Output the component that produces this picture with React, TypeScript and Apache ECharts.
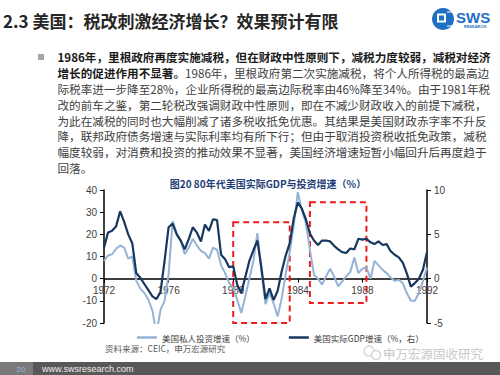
import React, { useEffect, useRef } from 'react';
import * as echarts from 'echarts';

// ---------- data ----------
const startYear = 1972;
const endYear = 1992;
const quarters: string[] = [];
for (let y = startYear; y <= endYear; y++) {
  for (let q = 1; q <= 4; q++) {
    if (y === endYear && q > 1) break;
    quarters.push(`${y}Q${q}`);
  }
}
const xTickLabels = ['1972', '1976', '1980', '1984', '1988', '1992'];

// 美国私人投资增速（%）, left axis
const investmentGrowth = [
  8, 10.5, 11, 13.5, 15, 14, 9, 10, -1, -4.5,
  -6.5, -9.5, -14.5, -25, -14, -10, 2, 26, 20.5, 17,
  11, 14, 18, 15, 12.5, 11.5, 9, 14, 13, 6,
  2.5, -2, -4, -9.5, -15.5, -8, 0, 8, 20.5, 3,
  -11.5, -6.5, -11, -17, -9, 2, 12, 24, 39, 31,
  25, 13, 1.8, 0, -2.7, 1, 4.5, 1, -3.5, -1.2,
  1, 3, 9.5, 2.5, 4.5, 5, 0, 8, 6, 4,
  2.5, 0.5, -1, -0.5, -2, -6.5, -10, -10, -6.5, -1,
  5,
];

// 美国实际GDP增速（%，右）, right axis
const gdpGrowth = [
  3.5, 5.2, 5.4, 5.9, 7.6, 6.4, 5.0, 4.0, 0.6, 0.1,
  -0.6, -1.3, -2.0, -2.3, -1.5, 2.0, 5.8, 6.2, 5.0, 4.3,
  3.3, 4.5, 5.8, 5.2, 4.2, 6.1, 5.4, 6.7, 6.6, 2.7,
  2.2, 1.3, 1.4, -0.7, -1.6, 0.2, 2.0, 3.2, 4.3, 1.2,
  -2.3, -1.1, -2.4, -1.4, 0.8, 2.6, 4.0, 6.8, 8.6, 7.9,
  6.7, 5.1, 4.3, 3.8, 4.3, 4.3, 4.2, 3.7, 3.3, 3.0,
  2.9, 3.4, 3.3, 4.5, 4.4, 4.5, 4.1, 3.9, 4.2, 3.8,
  3.9, 3.1, 2.7, 2.4, 1.8, 0.6, -0.9, -0.5, 0.0, 1.0,
  3.0,
];

const seriesNames = ['美国私人投资增速（%）', '美国实际GDP增速（%，右）'];
const leftAxis = { min: -20, max: 40, interval: 10 };
const rightAxis = { min: -5, max: 10, interval: 5 };

// highlighted periods (dashed boxes), in data coordinates of left axis
const boxStart = ['1980Q1', '1984Q4'];
const boxEnd = ['1983Q3', '1988Q2'];
const boxTop = [25.5, 34.5];
const boxBottom = [-20, -11];

const headerTitle = '2.3 美国：税改刺激经济增长？效果预计有限';
const chartTitle = '图20 80年代美国实际GDP与投资增速（%）';
const sourceText = '资料来源：CEIC，申万宏源研究';
const bodyLine1 = '1986年，里根政府再度实施减税，但在财政中性原则下，减税力度较弱，减税对经济';
const bodyLine2Bold = '增长的促进作用不显著。';
const bodyLine2Rest = '1986年，里根政府第二次实施减税，将个人所得税的最高边';
const bodyLines = [
  '际税率进一步降至28%，企业所得税的最高边际税率由46%降至34%。由于1981年税',
  '改的前车之鉴，第二轮税改强调财政中性原则，即在不减少财政收入的前提下减税，',
  '为此在减税的同时也大幅削减了诸多税收抵免优惠。其结果是美国财政赤字率不升反',
  '降，联邦政府债务增速与实际利率均有所下行；但由于取消投资税收抵免政策，减税',
  '幅度较弱，对消费和投资的推动效果不显著，美国经济增速短暂小幅回升后再度趋于',
  '回落。',
];

const CJK = '"Noto Sans CJK SC", "Noto Sans", sans-serif';
const LAT = '"Liberation Sans", "Noto Sans CJK SC", sans-serif';

function isTick(_i: number, v: string) {
  return v.endsWith('Q1') && xTickLabels.includes(v.slice(0, 4));
}

// layout
const GRID_TOP = 190;
const GRID_BOTTOM = 52;
const GRID_H = 375 - GRID_TOP - GRID_BOTTOM;
// place the category axis on the zero line of the left axis
const zeroOffset = -(GRID_H * (0 - leftAxis.min)) / (leftAxis.max - leftAxis.min);

export default function App() {
  const ref = useRef<HTMLDivElement>(null);
  useEffect(() => {
    const chart = echarts.init(ref.current!, null, { renderer: 'svg' });
    const bodyFont = 11.6;
    const lineH = 15.95;
    const bodyX = 57.5;
    const bodyY0 = 56.7;

    const graphics: any[] = [
      // header
      {
        type: 'text', x: 3, y: 20,
        style: { text: headerTitle, fontSize: 17, fontWeight: 'bold', fontFamily: CJK, fill: '#262626', align: 'left', verticalAlign: 'middle' },
      },
      // logo
      { type: 'circle', shape: { cx: 443, cy: 19, r: 11 }, style: { fill: '#1f6fc5' } },
      { type: 'rect', shape: { x: 437, y: 13.5, width: 9, height: 9 }, style: { fill: '#ffffff' } },
      { type: 'rect', shape: { x: 439, y: 15.5, width: 5, height: 5 }, style: { fill: '#1f6fc5' } },
      { type: 'line', shape: { x1: 447, y1: 12, x2: 453, y2: 12 }, style: { stroke: '#ffffff', lineWidth: 1 } },
      { type: 'line', shape: { x1: 447, y1: 26, x2: 453, y2: 26 }, style: { stroke: '#ffffff', lineWidth: 1 } },
      {
        type: 'text', x: 456, y: 17,
        style: { text: 'SWS', fontSize: 15, fontWeight: 'bold', fontFamily: LAT, fill: '#1f6fc5', align: 'left', verticalAlign: 'middle' },
      },
      {
        type: 'text', x: 475, y: 26.5,
        style: { text: 'RESEARCH', fontSize: 4, fontWeight: 'bold', fontFamily: LAT, fill: '#1f6fc5', align: 'center', verticalAlign: 'middle' },
      },
      // bullet
      { type: 'rect', shape: { x: 38, y: 54, width: 6, height: 6 }, style: { fill: '#a6a6a6' } },
      {
        type: 'text', x: bodyX, y: bodyY0,
        style: { text: bodyLine1, fontSize: bodyFont, fontWeight: 'bold', fontFamily: CJK, fill: '#1a1a1a', align: 'left', verticalAlign: 'middle' },
      },
      {
        type: 'text', x: bodyX, y: bodyY0 + lineH,
        style: { text: bodyLine2Bold, fontSize: bodyFont, fontWeight: 'bold', fontFamily: CJK, fill: '#1a1a1a', align: 'left', verticalAlign: 'middle' },
      },
      {
        type: 'text', x: bodyX + bodyFont * 11, y: bodyY0 + lineH,
        style: { text: bodyLine2Rest, fontSize: bodyFont, fontFamily: CJK, fill: '#404040', align: 'left', verticalAlign: 'middle' },
      },
      ...bodyLines.map((t, i) => ({
        type: 'text', x: bodyX, y: bodyY0 + lineH * (i + 2),
        style: { text: t, fontSize: bodyFont, fontFamily: CJK, fill: '#404040', align: 'left', verticalAlign: 'middle' },
      })),
      // chart title
      {
        type: 'text', x: 268, y: 183,
        style: { text: chartTitle, fontSize: 10, fontWeight: 'bold', fontFamily: CJK, fill: '#1f3e78', align: 'center', verticalAlign: 'middle' },
      },
      // source
      {
        type: 'text', x: 105, y: 348,
        style: { text: sourceText, fontSize: 8.5, fontFamily: CJK, fill: '#595959', align: 'left', verticalAlign: 'middle' },
      },
      // watermark
      { type: 'circle', shape: { cx: 369, cy: 351, r: 5 }, style: { fill: 'none', stroke: '#cfcfcf', lineWidth: 1.2 } },
      { type: 'circle', shape: { cx: 376, cy: 355, r: 4.5 }, style: { fill: '#ffffff', stroke: '#cfcfcf', lineWidth: 1.2 } },
      {
        type: 'text', x: 383, y: 353,
        style: { text: '申万宏源固收研究', fontSize: 12.5, fontFamily: CJK, fill: '#c8c8c8', align: 'left', verticalAlign: 'middle' },
      },
      // footer
      { type: 'rect', shape: { x: 0, y: 362, width: 500, height: 13 }, style: { fill: '#585858' } },
      { type: 'rect', shape: { x: 0, y: 362, width: 33, height: 13 }, style: { fill: '#7a7a7a' } },
      {
        type: 'text', x: 21, y: 369,
        style: { text: '20', fontSize: 8, fontFamily: LAT, fill: '#8fbbe8', align: 'center', verticalAlign: 'middle' },
      },
      {
        type: 'text', x: 42, y: 368.5,
        style: { text: 'www.swsresearch.com', fontSize: 9, fontFamily: LAT, fill: '#eeeeee', align: 'left', verticalAlign: 'middle' },
      },
    ];

    const axisLabelStyle = { fontSize: 10, color: '#404040', fontFamily: LAT };
    const axisLineStyle = { show: true, lineStyle: { color: '#000000', width: 1.5 } };

    chart.setOption({
      animation: false,
      backgroundColor: '#ffffff',
      grid: { left: 104, right: 73, top: GRID_TOP, bottom: GRID_BOTTOM, containLabel: false, outerBoundsMode: 'none' },
      legend: {
        data: seriesNames,
        left: 132,
        top: 327.5,
        icon: 'rect',
        itemWidth: 20,
        itemHeight: 2.5,
        itemGap: 34,
        textStyle: { fontSize: 8.5, color: '#404040', fontFamily: CJK, lineHeight: 10 },
      },
      xAxis: {
        type: 'category',
        data: quarters,
        boundaryGap: false,
        position: 'bottom',
        offset: zeroOffset,
        axisLine: { ...axisLineStyle, onZero: false },
        axisTick: { show: true, interval: isTick, length: 4, lineStyle: { color: '#000', width: 1 } },
        axisLabel: { ...axisLabelStyle, interval: isTick, formatter: (v: string) => v.slice(0, 4), margin: 7 },
        splitLine: { show: false },
      },
      yAxis: [
        {
          type: 'value', position: 'left', ...leftAxis,
          axisLine: axisLineStyle,
          axisTick: { show: true, length: 4, lineStyle: { color: '#000' } },
          axisLabel: { ...axisLabelStyle, margin: 7 },
          splitLine: { show: false },
        },
        {
          type: 'value', position: 'right', ...rightAxis,
          axisLine: axisLineStyle,
          axisTick: { show: true, length: 4, lineStyle: { color: '#000' } },
          axisLabel: { ...axisLabelStyle, margin: 7 },
          splitLine: { show: false },
        },
      ],
      series: [
        {
          name: seriesNames[0],
          type: 'line',
          yAxisIndex: 0,
          data: investmentGrowth,
          showSymbol: false,
          clip: true,
          lineStyle: { color: '#95b3d7', width: 2 },
          itemStyle: { color: '#95b3d7' },
          markArea: {
            silent: true,
            itemStyle: { color: 'rgba(0,0,0,0)', borderColor: '#ee1c1c', borderWidth: 2, borderType: [6, 4] },
            data: boxStart.map((s, i) => [
              { xAxis: s, yAxis: boxTop[i] },
              { xAxis: boxEnd[i], yAxis: boxBottom[i] },
            ]),
          },
        },
        {
          name: seriesNames[1],
          type: 'line',
          yAxisIndex: 1,
          data: gdpGrowth,
          showSymbol: false,
          clip: true,
          lineStyle: { color: '#17375e', width: 2.2 },
          itemStyle: { color: '#17375e' },
        },
      ],
      graphic: graphics,
    });
    return () => chart.dispose();
  }, []);
  return (
    <div
      ref={ref}
      style={{ position: 'absolute', left: 0, top: 0, width: 500, height: 375, background: '#fff' }}
    />
  );
}
